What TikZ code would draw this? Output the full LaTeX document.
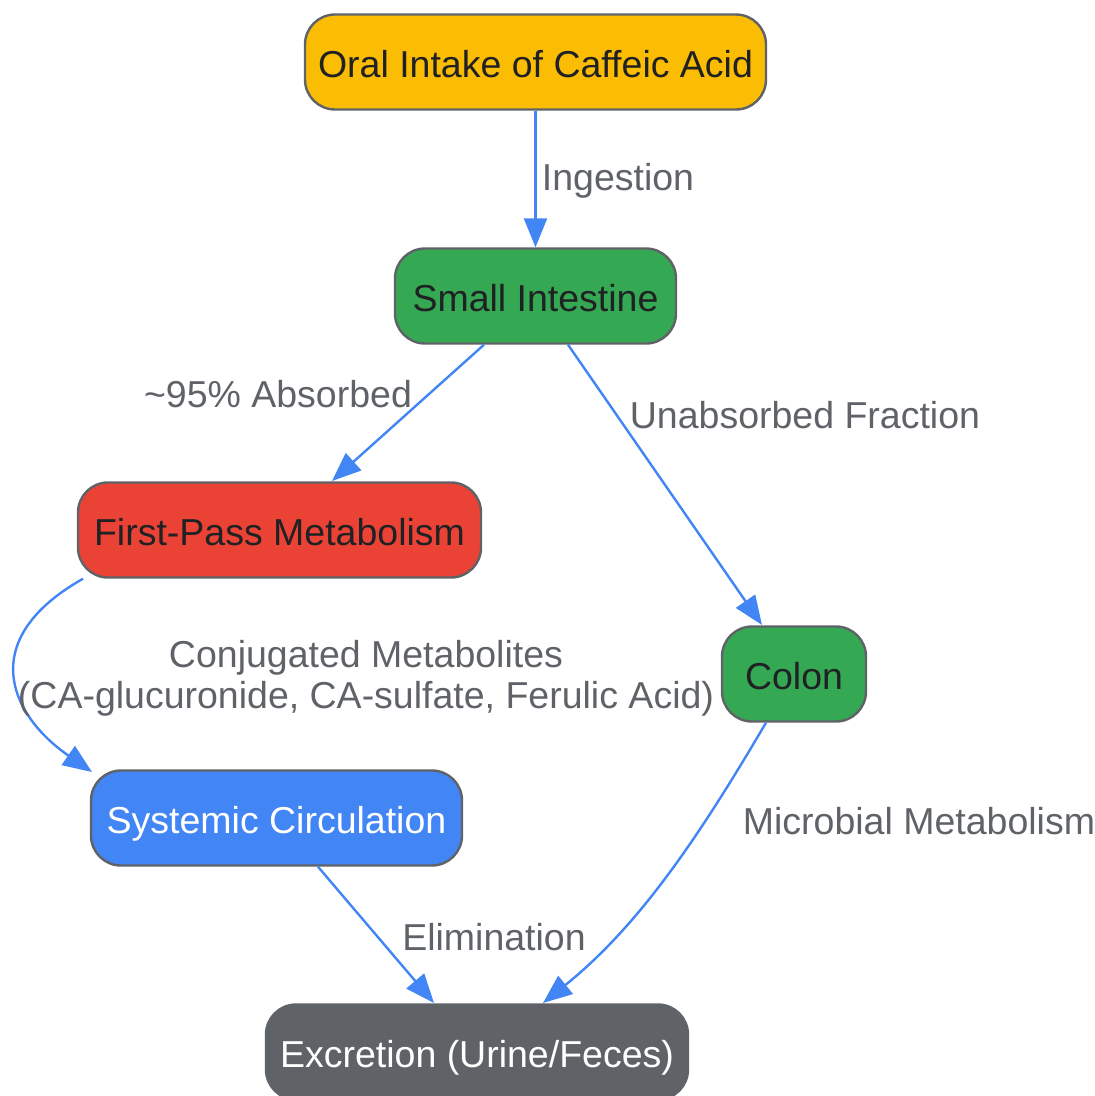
\documentclass[tikz,border=0pt]{standalone}
\usepackage{fontspec}
\setmainfont{Liberation Sans}
\usetikzlibrary{arrows.meta}
\definecolor{cyellow}{HTML}{FBBC04}
\definecolor{cgreen}{HTML}{34A853}
\definecolor{cred}{HTML}{EA4335}
\definecolor{cblue}{HTML}{4285F4}
\definecolor{cgrey}{HTML}{5F6368}
\definecolor{ctext}{HTML}{202124}
\definecolor{cborder}{HTML}{5F6368}
\begin{document}
\begin{tikzpicture}[x=1pt,y=1pt,
  box/.style={draw=cborder, line width=2.4pt, rounded corners=30pt, minimum height=95pt, inner sep=0pt, font=\fontsize{37.5}{42}\selectfont, text=ctext, text height=30pt, text depth=0pt},
  edge/.style={draw=cblue, line width=2.4pt, -{Triangle[length=29pt,width=23pt]}},
  lbl/.style={text=cgrey, font=\fontsize{37.5}{41}\selectfont, inner sep=0pt, align=center}]
\useasboundingbox (0,0) rectangle (1095,-1096);
\node[box, fill=cyellow, minimum width=461pt] (oral) at (535.5,-62) {Oral Intake of Caffeic Acid};
\node[box, fill=cgreen, minimum width=281pt] (small) at (535.5,-296) {Small Intestine};
\node[box, fill=cred, minimum width=403pt] (first) at (279.5,-530) {First-Pass Metabolism};
\node[box, fill=cgreen, minimum width=144pt] (colon) at (794,-674) {Colon};
\node[box, fill=cblue, minimum width=371pt, text=white] (sys) at (276.5,-818) {Systemic Circulation};
\node[box, fill=cgrey, draw=cgrey, minimum width=422pt, text=white] (exc) at (477,-1052) {Excretion (Urine/Feces)};
\draw[edge] (oral.south) -- (small.north);
\draw[edge] (small.south -| 484,0) -- (332,-481);
\draw[edge] (small.south -| 568,0) -- (762,-625);
\draw[edge] (first.south -| 83,0) .. controls (-25,-640) and (10,-715) .. (92,-772);
\draw[edge] (colon.south -| 766,0) .. controls (700,-835) and (640,-925) .. (543,-1003);
\draw[edge] (sys.south -| 318,0) -- (434,-1003);
\node[lbl] (l1) at (618,-181) {Ingestion};
\node[lbl] (l2) at (278,-394) {\textasciitilde95\% Absorbed};
\node[lbl] (l3) at (805,-415) {Unabsorbed Fraction};
\node[lbl] (l4) at (366,-678) {Conjugated Metabolites\\(CA-glucuronide, CA-sulfate, Ferulic Acid)};
\node[lbl] (l5) at (919,-821) {Microbial Metabolism};
\node[lbl] (l6) at (494,-937) {Elimination};
\end{tikzpicture}
\end{document}
